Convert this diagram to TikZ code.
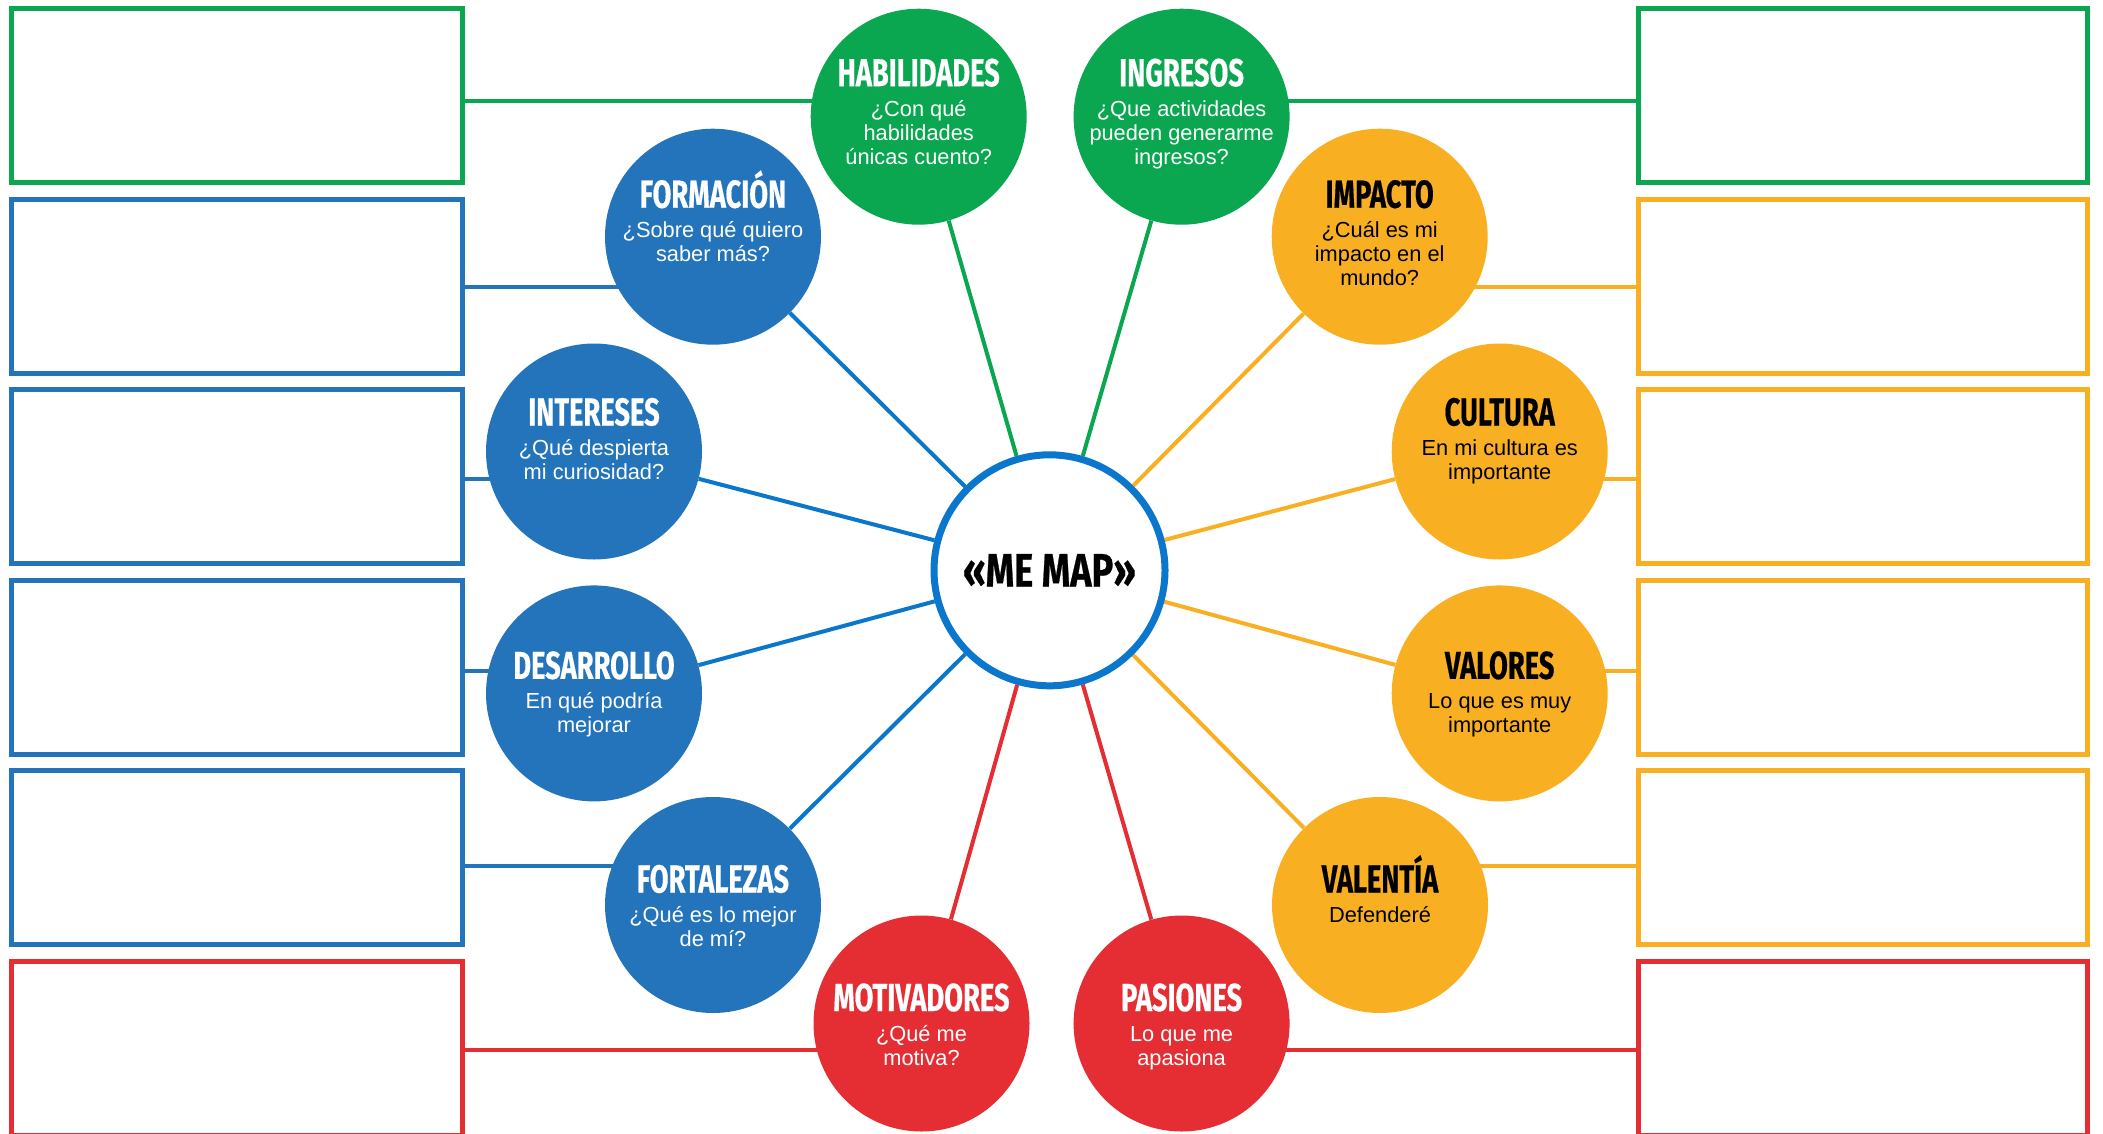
\documentclass[tikz,border=0pt]{standalone}
\usepackage{fontspec}
\setmainfont{Liberation Sans}
\newfontfamily\tfont[FakeStretch=0.7,FakeBold=0.4]{Fira Sans}
\newfontfamily\hubfont[FakeStretch=0.77,FakeBold=0.5]{Fira Sans}
\usetikzlibrary{backgrounds}
\definecolor{cgreen}{HTML}{0AA650}
\definecolor{cblue}{HTML}{2474BB}
\definecolor{cring}{HTML}{0A77CC}
\definecolor{cyellow}{HTML}{F8B022}
\definecolor{cred}{HTML}{E52E33}
\tikzset{
  sat/.style={circle, fill=#1, minimum size=216pt, inner sep=0pt},
  hub/.style={circle, draw=cring, fill=white, line width=7pt, minimum size=231pt, inner sep=0pt},
  lbox/.style={draw=#1, line width=5pt, minimum width=451pt, minimum height=174pt, inner sep=0pt},
  rbox/.style={draw=#1, line width=5pt, minimum width=449pt, minimum height=174pt, inner sep=0pt},
  link/.style={draw=#1, line width=4pt},
  lab/.style={anchor=base, inner sep=0pt, text=#1, font=\fontsize{21.8}{24}\selectfont},
}
\newcommand{\lbl}[2]{\begin{tabular}[t]{@{}c@{}}{\tfont\bfseries\fontsize{39}{39}\selectfont #1}\\[6pt] #2\end{tabular}}
\begin{document}
\begin{tikzpicture}[x=1pt,y=-1pt]
\useasboundingbox (0,0) rectangle (2103,1133);
\clip (0,0) rectangle (2103,1133);
% boxes
\node[lbox=cgreen] (L1) at (237,95.5) {};
\node[lbox=cblue] (L2) at (237,286) {};
\node[lbox=cblue] (L3) at (237,476.7) {};
\node[lbox=cblue] (L4) at (237,667.3) {};
\node[lbox=cblue] (L5) at (237,857.9) {};
\node[lbox=cred] (L6) at (237,1048.5) {};
\node[rbox=cgreen] (R1) at (1863,95.5) {};
\node[rbox=cyellow] (R2) at (1863,286) {};
\node[rbox=cyellow] (R3) at (1863,476.7) {};
\node[rbox=cyellow] (R4) at (1863,667.3) {};
\node[rbox=cyellow] (R5) at (1863,857.9) {};
\node[rbox=cred] (R6) at (1863,1048.5) {};
% hub
\node[hub] (c) at (1049.5,570.3) {};
\node[inner sep=0pt, font=\hubfont\bfseries\fontsize{47}{47}\selectfont] (cT) at (1049.5,570.3) {«ME MAP»};
% satellites
\node[sat=cgreen] (hab) at (918.7,116.7) {};
\node[sat=cgreen] (ing) at (1181.6,116.7) {};
\node[sat=cblue] (form) at (713,236.7) {};
\node[sat=cyellow] (imp) at (1379.7,236.7) {};
\node[sat=cblue] (int) at (594,451.5) {};
\node[sat=cyellow] (cul) at (1499.7,451.5) {};
\node[sat=cblue] (des) at (594,693.4) {};
\node[sat=cyellow] (val) at (1499.7,693.4) {};
\node[sat=cblue] (fort) at (713,905) {};
\node[sat=cyellow] (vlt) at (1380,905) {};
\node[sat=cred] (mot) at (921.5,1023.5) {};
\node[sat=cred] (pas) at (1181.6,1023.5) {};
% labels
\node[lab=white] (habT) at ([yshift=30.5pt]hab.center) {\lbl{HABILIDADES}{¿Con qué\\habilidades\\únicas cuento?}};
\node[lab=white] (ingT) at ([yshift=30.5pt]ing.center) {\lbl{INGRESOS}{¿Que actividades\\pueden generarme\\ingresos?}};
\node[lab=white] (formT) at ([yshift=29pt]form.center) {\lbl{FORMACIÓN}{¿Sobre qué quiero\\saber más?}};
\node[lab=black] (impT) at ([yshift=29pt]imp.center) {\lbl{IMPACTO}{¿Cuál es mi\\impacto en el\\mundo?}};
\node[lab=white] (intT) at ([yshift=26pt]int.center) {\lbl{INTERESES}{¿Qué despierta\\mi curiosidad?}};
\node[lab=black] (culT) at ([yshift=26pt]cul.center) {\lbl{CULTURA}{En mi cultura es\\importante}};
\node[lab=white] (desT) at ([yshift=14.5pt]des.center) {\lbl{DESARROLLO}{En qué podría\\mejorar}};
\node[lab=black] (valT) at ([yshift=14.5pt]val.center) {\lbl{VALORES}{Lo que es muy\\importante}};
\node[lab=white] (fortT) at ([yshift=12.5pt]fort.center) {\lbl{FORTALEZAS}{¿Qué es lo mejor\\de mí?}};
\node[lab=black] (vltT) at ([yshift=12.5pt]vlt.center) {\lbl{VALENTÍA}{Defenderé}};
\node[lab=white] (motT) at ([yshift=12.5pt]mot.center) {\lbl{MOTIVADORES}{¿Qué me\\motiva?}};
\node[lab=white] (pasT) at ([yshift=12.5pt]pas.center) {\lbl{PASIONES}{Lo que me\\apasiona}};
% connectors
\begin{pgfonlayer}{background}
\draw[link=cgreen] (L1.east |- 0,101) -- (hab.center |- 0,101);
\draw[link=cblue] (L2.east |- 0,287) -- (form.center |- 0,287);
\draw[link=cblue] (L3.east |- 0,479) -- (int.center |- 0,479);
\draw[link=cblue] (L4.east |- 0,671) -- (des.center |- 0,671);
\draw[link=cblue] (L5.east |- 0,866) -- (fort.center |- 0,866);
\draw[link=cred] (L6.east |- 0,1050) -- (mot.center |- 0,1050);
\draw[link=cgreen] (R1.west |- 0,101) -- (ing.center |- 0,101);
\draw[link=cyellow] (R2.west |- 0,287) -- (imp.center |- 0,287);
\draw[link=cyellow] (R3.west |- 0,479) -- (cul.center |- 0,479);
\draw[link=cyellow] (R4.west |- 0,671) -- (val.center |- 0,671);
\draw[link=cyellow] (R5.west |- 0,866) -- (vlt.center |- 0,866);
\draw[link=cred] (R6.west |- 0,1050) -- (pas.center |- 0,1050);
\draw[link=cgreen] (c) -- (hab);
\draw[link=cgreen] (c) -- (ing);
\draw[link=cring] (c) -- (form);
\draw[link=cring] (c) -- (int);
\draw[link=cring] (c) -- (des);
\draw[link=cring] (c) -- (fort);
\draw[link=cyellow] (c) -- (imp);
\draw[link=cyellow] (c) -- (cul);
\draw[link=cyellow] (c) -- (val);
\draw[link=cyellow] (c) -- (vlt);
\draw[link=cred] (c) -- (mot);
\draw[link=cred] (c) -- (pas);
\end{pgfonlayer}
\end{tikzpicture}
\end{document}
